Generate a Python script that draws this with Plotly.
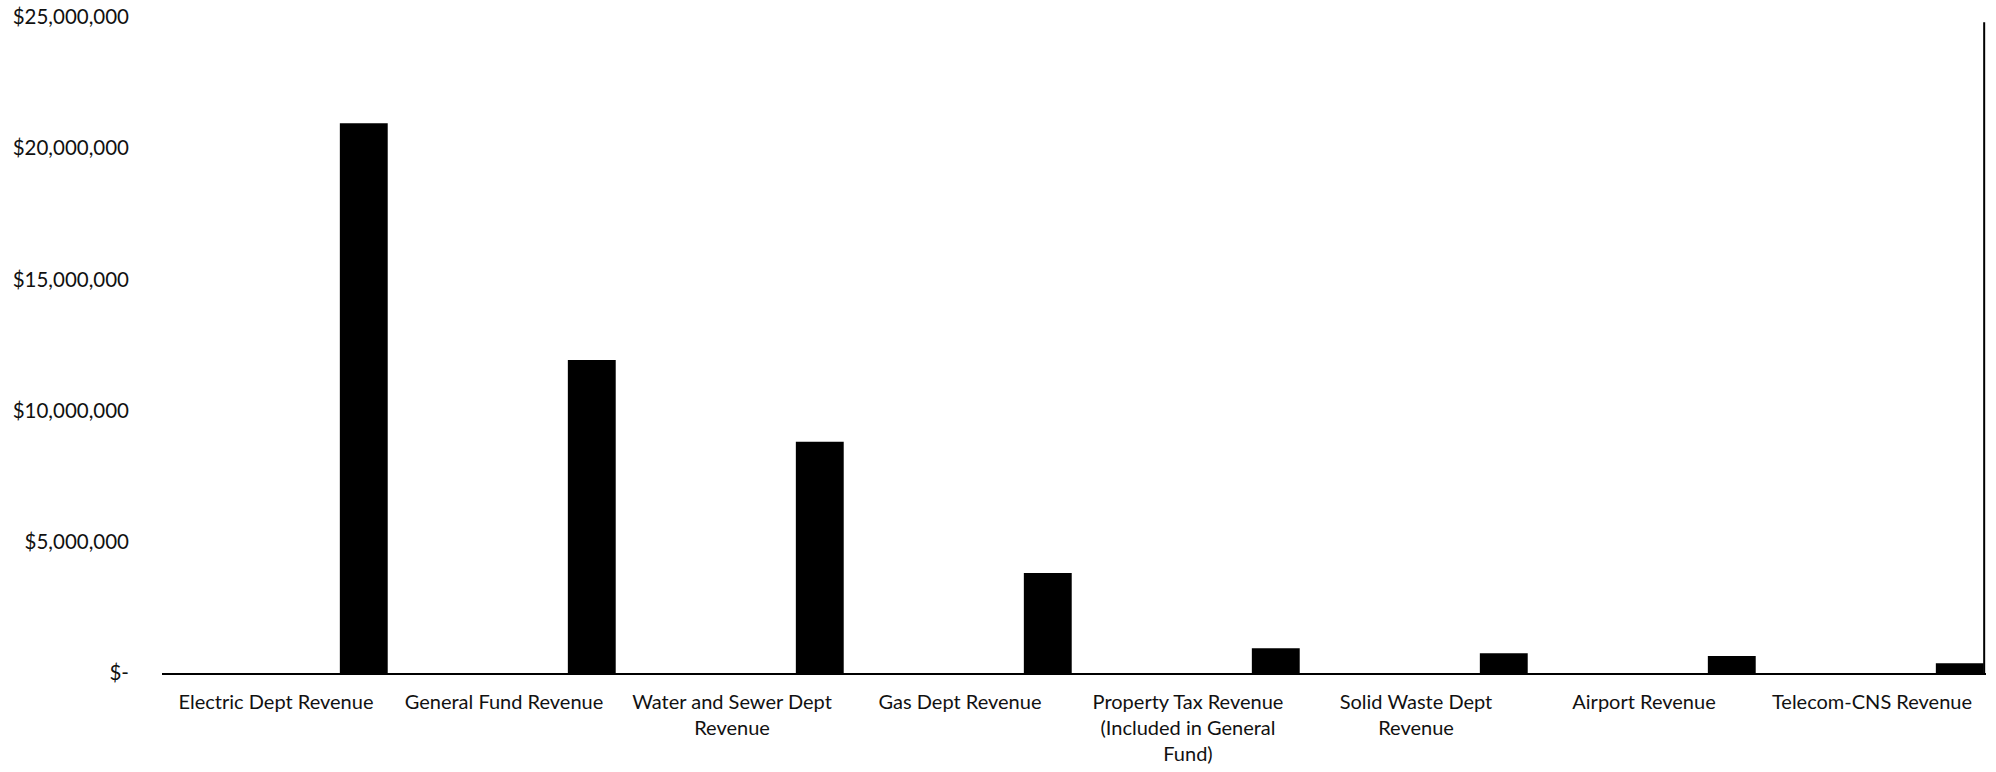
import plotly.graph_objects as go

# Annual revenue by source
categories = [
    "Electric Dept Revenue",
    "General Fund Revenue",
    "Water and Sewer Dept Revenue",
    "Gas Dept Revenue",
    "Property Tax Revenue (Included in General Fund)",
    "Solid Waste Dept Revenue",
    "Airport Revenue",
    "Telecom-CNS Revenue",
]
revenue = [20950000, 11930000, 8810000, 3810000, 940000, 750000, 650000, 370000]

# Wrapped category labels for the x axis
category_labels = [
    "Electric Dept Revenue",
    "General Fund Revenue",
    "Water and Sewer Dept<br>Revenue",
    "Gas Dept Revenue",
    "Property Tax Revenue<br>(Included in General<br>Fund)",
    "Solid Waste Dept<br>Revenue",
    "Airport Revenue",
    "Telecom-CNS Revenue",
]

# Y axis ticks in accounting style
y_tick_values = [0, 5000000, 10000000, 15000000, 20000000, 25000000]
y_tick_labels = ["$-", "$5,000,000", "$10,000,000", "$15,000,000", "$20,000,000", "$25,000,000"]

FONT = "Lato"

fig = go.Figure(
    go.Bar(
        x=categories,
        y=revenue,
        width=0.21,
        offset=0.28,
        marker=dict(color="#000000", line=dict(width=0)),
        hovertemplate="%{x}: $%{y:,.0f}<extra></extra>",
    )
)

fig.update_layout(
    width=1996,
    height=772,
    margin=dict(l=162, r=10, t=17, b=99),
    paper_bgcolor="white",
    plot_bgcolor="white",
    showlegend=False,
    font=dict(family=FONT, size=20, color="#111111"),
    xaxis=dict(
        type="category",
        range=[-0.5, 7.5],
        tickmode="array",
        tickvals=categories,
        ticktext=category_labels,
        tickangle=0,
        automargin=False,
        showgrid=False,
        zeroline=False,
        showline=True,
        linecolor="#000000",
        linewidth=2,
        ticks="",
        ticklabelstandoff=10,
        tickfont=dict(family=FONT, size=20, color="#111111"),
    ),
    yaxis=dict(
        range=[0, 25000000],
        tickmode="array",
        tickvals=y_tick_values,
        ticktext=y_tick_labels,
        automargin=False,
        showgrid=False,
        zeroline=False,
        showline=False,
        ticks="",
        ticklabelstandoff=32,
        tickfont=dict(family=FONT, size=20.5, color="#111111"),
    ),
    shapes=[
        dict(
            type="line",
            xref="paper",
            yref="paper",
            x0=0.999,
            x1=0.999,
            y0=0,
            y1=0.992,
            line=dict(color="#000000", width=2),
        )
    ],
)

fig.write_html("out.html")
